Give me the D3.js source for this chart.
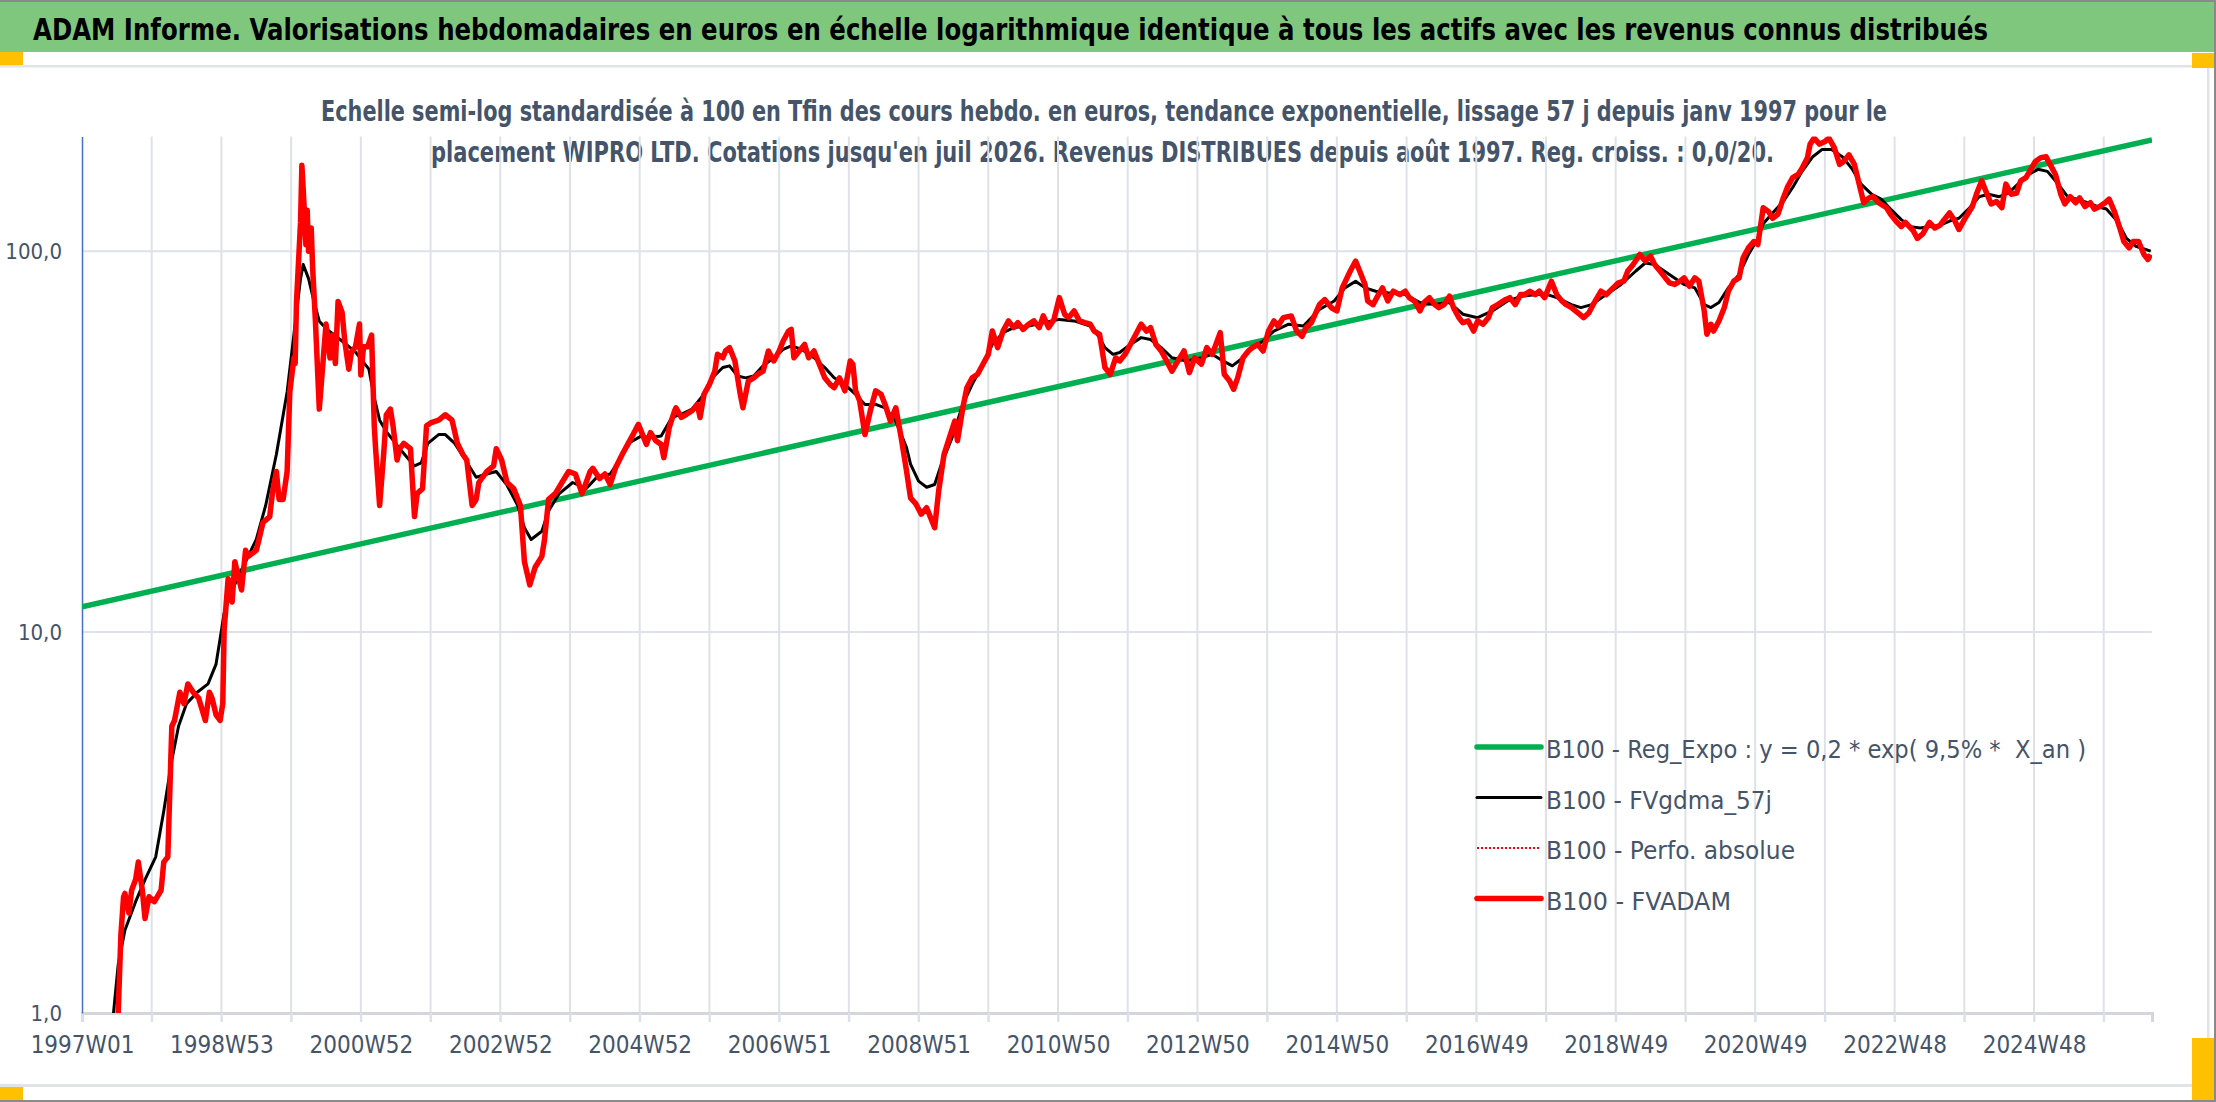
<!DOCTYPE html>
<html lang="fr">
<head>
<meta charset="UTF-8">
<title>ADAM Informe - WIPRO LTD</title>
<style>
  body { margin: 0; background: #fff; }
  svg { display: block; font-family: "Liberation Sans Narrow", "DejaVu Sans Condensed", "Roboto", sans-serif; }
  .pre { white-space: pre; }
</style>
</head>
<body>
<svg width="2216" height="1102"></svg>
<script src="https://d3js.org/d3.v7.min.js"></script>
<script>
// x axis: weekly categories from 1997W01, one label every 104 weeks
const nWeeks = 1544;
const tickLabels = ["1997W01", "1998W53", "2000W52", "2002W52", "2004W52", "2006W51", "2008W51",
  "2010W50", "2012W50", "2014W50", "2016W49", "2018W49", "2020W49", "2022W48", "2024W48"];
const yTicks = [1, 10, 100];

// B100 - Reg_Expo : straight line in log scale, ends of the regression
const regExpo = [[0, 11.65], [1544, 196]];

// B100 - FVgdma_57j  [week index, value]
const fvgdma = [[20,0.8],[23,0.96],[27,1.34],[32,1.65],[40,1.96],[47,2.24],[55,2.57],[61,3.39],[67,4.61],[72,5.66],
  [78,6.49],[86,6.95],[94,7.31],[100,8.24],[104,10.1],[106,11.2],[112,12.9],[122,15.3],[130,17.5],[137,21.5],
  [145,29.3],[153,42.7],[158,60.2],[163,84.7],[165,92.3],[169,84.7],[173,73.8],[177,65.5],[183,62.2],[194,58.1],
  [204,54.3],[214,49.0],[218,41.2],[222,36.0],[227,33.6],[237,30.3],[248,27.3],[253,27.8],[258,31.3],[266,33.0],
  [271,33.0],[278,31.3],[286,28.3],[294,25.5],[302,26.0],[309,26.4],[317,24.3],[325,21.5],[330,18.8],[335,17.5],
  [343,18.4],[348,20.8],[356,23.1],[366,24.7],[376,23.8],[384,25.5],[394,26.0],[402,28.7],[409,31.5],[417,32.7],
  [424,32.4],[432,32.7],[440,36.6],[447,37.3],[455,38.5],[462,41.3],[470,46.5],[478,49.5],[483,50.0],[489,47.0],
  [495,46.5],[501,47.0],[508,50.0],[516,52.5],[523,55.2],[529,56.4],[537,55.2],[546,52.5],[554,49.5],[561,46.5],
  [569,44.7],[577,42.1],[584,39.6],[592,39.6],[599,38.8],[607,35.8],[615,30.5],[618,27.6],[624,24.9],[630,24.0],
  [636,24.4],[641,27.6],[649,32.4],[657,39.6],[664,44.7],[672,50.5],[679,56.9],[687,61.1],[695,63.0],[706,63.6],
  [717,64.9],[729,66.2],[740,65.6],[752,63.6],[759,59.3],[763,55.8],[769,53.6],[774,54.2],[782,56.9],[790,59.3],
  [797,58.6],[805,55.8],[813,52.5],[824,51.5],[835,52.5],[843,53.6],[851,51.5],[858,50.0],[866,52.5],[873,55.8],
  [881,58.1],[889,61.7],[900,64.3],[911,63.6],[923,70.3],[934,74.0],[942,80.1],[950,83.4],[957,80.1],[965,78.5],
  [974,77.8],[983,77.5],[987,76.9],[998,73.3],[1009,72.4],[1020,73.3],[1030,68.3],[1041,66.9],[1052,69.7],[1063,73.9],
  [1074,76.2],[1085,76.9],[1093,76.9],[1100,75.5],[1111,72.4],[1118,71.1],[1126,72.4],[1137,76.9],[1148,81.8],[1159,88.7],
  [1166,93.1],[1173,92.3],[1184,86.9],[1195,81.8],[1203,80.1],[1210,72.4],[1215,71.1],[1221,73.3],[1228,80.1],[1236,86.9],
  [1243,98.0],[1250,108],[1254,118],[1261,126],[1269,135],[1276,147],[1283,162],[1291,177],[1298,185],[1305,185],
  [1313,177],[1320,165],[1327,150],[1335,141],[1342,137],[1349,129],[1357,121],[1364,116],[1371,115],[1378,116],
  [1386,117],[1393,120],[1400,122],[1408,130],[1415,139],[1422,141],[1430,139],[1437,142],[1444,150],[1452,159],
  [1459,164],[1466,162],[1474,150],[1481,139],[1488,137],[1496,134],[1503,131],[1510,129],[1518,120],[1525,108],
  [1532,103],[1543,100]];

// B100 - FVADAM  [week index, value]
const fvadam = [[25,0.8],[27,1.0],[29,1.6],[31,2.02],[32,2.06],[35,1.83],[37,2.10],[40,2.24],[42,2.49],[45,2.10],
  [47,1.77],[50,2.02],[54,1.96],[59,2.10],[61,2.49],[64,2.57],[67,5.66],[69,5.86],[73,6.95],[76,6.49],
  [79,7.31],[83,6.95],[87,6.71],[92,5.86],[95,6.95],[97,6.71],[100,6.06],[103,5.86],[105,6.49],[106,10.1],
  [109,13.8],[112,12.0],[114,15.3],[117,13.8],[119,12.9],[122,16.4],[124,15.8],[130,16.4],[132,17.5],[135,19.4],
  [140,20.1],[142,23.1],[145,26.4],[147,22.3],[150,22.3],[153,26.4],[155,42.7],[158,52.4],[159,50.7],[160,73.8],
  [163,119],[164,168],[165,146],[167,104],[168,128],[169,100],[171,115],[172,90.8],[174,66.7],[177,38.5],
  [180,52.4],[182,64.4],[185,52.4],[187,60.2],[189,50.7],[191,73.8],[194,69.0],[196,58.1],[199,49.0],[201,54.3],
  [204,56.1],[207,64.4],[208,47.3],[210,56.1],[213,56.1],[216,60.2],[218,34.8],[219,30.3],[222,21.5],[225,29.3],
  [227,37.2],[230,38.5],[232,34.8],[235,28.3],[237,30.3],[240,31.3],[245,30.3],[248,20.1],[250,23.1],[254,23.8],
  [257,34.8],[260,35.4],[266,36.0],[271,37.2],[276,36.0],[280,31.3],[284,29.3],[287,28.3],[291,21.5],[294,22.3],
  [296,24.7],[302,26.4],[307,27.3],[309,30.3],[313,28.3],[317,24.7],[322,23.8],[327,21.5],[330,15.3],[334,13.3],
  [338,14.8],[343,15.8],[345,17.5],[348,22.3],[353,23.1],[358,24.7],[363,26.4],[368,26.0],[373,23.1],[379,26.4],
  [381,26.9],[386,25.3],[390,26.0],[394,24.4],[398,27.0],[403,29.3],[407,31.1],[411,33.0],[415,35.1],[419,32.4],
  [421,31.1],[424,33.4],[428,31.8],[432,31.1],[434,28.7],[438,34.4],[442,38.1],[443,38.8],[447,36.6],[451,37.3],
  [455,38.1],[459,39.6],[461,36.6],[464,42.1],[468,44.7],[472,48.4],[474,53.6],[478,52.5],[480,54.7],[483,55.8],
  [487,51.5],[491,42.1],[493,38.8],[497,45.6],[501,46.5],[504,47.5],[508,48.4],[512,54.7],[516,51.5],[520,54.7],
  [523,58.1],[527,61.7],[529,62.3],[531,52.5],[535,54.7],[539,56.9],[542,52.5],[546,54.7],[550,50.5],[554,46.5],
  [558,44.7],[561,43.8],[565,46.5],[569,43.0],[573,51.5],[575,50.5],[577,43.0],[580,40.5],[584,33.0],[588,38.1],
  [592,43.0],[596,42.1],[599,39.6],[603,35.8],[607,38.8],[611,32.4],[615,26.5],[618,22.5],[622,21.7],[626,20.4],
  [630,21.2],[636,18.8],[639,23.5],[643,29.3],[647,32.4],[651,35.8],[653,31.8],[657,38.8],[660,43.8],[664,46.5],
  [668,47.5],[672,50.5],[676,53.6],[679,61.7],[683,55.8],[687,61.7],[691,65.6],[695,63.0],[698,64.9],[702,62.3],
  [706,64.3],[710,65.6],[714,63.0],[717,67.6],[721,63.0],[725,66.2],[729,75.5],[733,68.2],[736,66.9],[740,69.7],
  [744,65.6],[748,64.9],[752,64.3],[755,61.7],[759,60.5],[763,49.5],[767,47.5],[771,52.5],[774,51.5],[778,53.6],
  [782,56.9],[790,64.3],[794,61.7],[797,63.0],[801,56.9],[805,54.7],[809,51.5],[813,48.4],[816,50.5],[822,54.7],
  [826,48.0],[830,52.5],[835,50.5],[839,55.8],[843,53.6],[849,61.1],[852,47.5],[856,45.6],[859,43.4],[862,46.5],
  [866,52.5],[870,54.7],[873,55.8],[877,56.9],[881,54.7],[885,61.7],[889,65.6],[892,63.6],[896,66.9],[902,67.6],
  [906,61.7],[910,59.8],[913,63.0],[917,64.9],[923,72.4],[927,74.6],[932,71.0],[936,69.7],[940,80.1],[946,88.7],
  [950,94.2],[953,88.7],[957,81.8],[959,74.0],[963,72.4],[967,76.9],[970,80.1],[974,74.0],[978,78.5],[983,76.9],
  [987,78.5],[990,75.5],[994,73.9],[998,69.7],[1001,73.3],[1005,75.5],[1009,72.4],[1012,71.1],[1016,72.4],[1020,76.2],
  [1023,71.1],[1027,66.9],[1030,64.9],[1034,65.6],[1038,61.7],[1041,65.6],[1045,64.3],[1049,66.9],[1052,71.1],[1056,72.4],
  [1062,74.7],[1065,75.5],[1069,72.4],[1073,76.9],[1076,76.9],[1080,78.5],[1084,76.9],[1087,78.5],[1091,75.5],[1096,83.4],
  [1100,76.9],[1104,73.9],[1107,72.4],[1111,71.1],[1117,68.3],[1120,66.9],[1124,68.9],[1128,73.3],[1133,78.5],[1137,76.9],
  [1142,80.1],[1146,82.6],[1150,83.4],[1153,88.7],[1157,92.3],[1162,98.0],[1166,94.2],[1170,97.0],[1173,92.3],[1177,88.7],
  [1181,85.1],[1184,82.6],[1188,81.8],[1192,83.4],[1195,85.1],[1199,80.9],[1203,85.1],[1206,83.4],[1210,69.7],[1212,60.5],
  [1215,64.3],[1217,61.7],[1221,65.6],[1225,71.1],[1228,78.5],[1232,83.4],[1236,85.1],[1239,96.1],[1243,102],[1247,106],
  [1250,104],[1254,130],[1258,127],[1261,122],[1265,125],[1269,138],[1272,147],[1276,156],[1280,159],[1283,165],
  [1287,176],[1289,191],[1292,198],[1296,191],[1300,194],[1303,198],[1307,187],[1311,169],[1314,172],[1318,179],
  [1322,169],[1325,153],[1329,134],[1333,138],[1336,139],[1340,134],[1346,130],[1349,125],[1353,120],[1357,116],
  [1360,119],[1366,113],[1369,108],[1373,111],[1378,119],[1382,115],[1386,117],[1389,121],[1393,126],[1397,120],
  [1400,114],[1404,121],[1410,131],[1413,141],[1417,153],[1421,141],[1424,133],[1428,135],[1432,130],[1435,150],
  [1439,141],[1443,142],[1446,153],[1450,156],[1454,165],[1457,172],[1461,176],[1465,177],[1468,169],[1472,159],
  [1476,141],[1479,133],[1483,139],[1487,134],[1490,138],[1494,131],[1498,134],[1501,129],[1505,131],[1509,134],
  [1512,137],[1516,127],[1520,115],[1523,106],[1527,102],[1530,106],[1534,106],[1538,98.0],[1541,95.1],[1543,98.0]];

const legendItems = [
  {label: "B100 - Reg_Expo : y = 0,2 * exp( 9,5% *  X_an )", color: "#00B050", width: 5.5, dash: null, len: 540},
  {label: "B100 - FVgdma_57j", color: "#000000", width: 3, dash: null, len: 226},
  {label: "B100 - Perfo. absolue", color: "#FF0000", width: 2, dash: "2,2", len: 249},
  {label: "B100 - FVADAM", color: "#FF0000", width: 5.5, dash: null, len: 185}
];

const W = 2216, H = 1102;
const plot = {left: 82, right: 2152, top: 136.5, bottom: 1013};
const textColor = "#44546A";
const gridColor = "#DEE2E8";

const svg = d3.select("svg");

// ---- frame around the chart (header band, borders, handles)
svg.append("rect").attr("width", W).attr("height", H).attr("fill", "#fff");
svg.append("rect").attr("x", 0).attr("y", 0).attr("width", W).attr("height", 52).attr("fill", "#80C77E");
svg.append("rect").attr("x", 0).attr("y", 0).attr("width", W).attr("height", 2).attr("fill", "#8a8a8a");
svg.append("rect").attr("x", 0).attr("y", 1100).attr("width", W).attr("height", 2).attr("fill", "#8a8a8a");
svg.append("rect").attr("x", 2214).attr("y", 0).attr("width", 2).attr("height", H).attr("fill", "#8a8a8a");
svg.append("rect").attr("x", 0).attr("y", 65).attr("width", 2209).attr("height", 2.5).attr("fill", "#E1E3E6");
svg.append("rect").attr("x", 0).attr("y", 1084).attr("width", 2209).attr("height", 3).attr("fill", "#E1E3E6");
svg.append("rect").attr("x", 2207).attr("y", 65).attr("width", 2.5).attr("height", 1022).attr("fill", "#E1E3E6");
const orange = "#FFC000";
svg.append("rect").attr("x", 0).attr("y", 52).attr("width", 23).attr("height", 13).attr("fill", orange);
svg.append("rect").attr("x", 2192).attr("y", 53).attr("width", 22).attr("height", 15).attr("fill", orange);
svg.append("rect").attr("x", 0).attr("y", 1087).attr("width", 23).attr("height", 13).attr("fill", orange);
svg.append("rect").attr("x", 2192).attr("y", 1038).attr("width", 22).attr("height", 62).attr("fill", orange);

// ---- titles
svg.append("text")
  .attr("x", 33).attr("y", 40)
  .attr("textLength", 1955).attr("lengthAdjust", "spacingAndGlyphs")
  .attr("font-size", 30).attr("font-weight", "bold").attr("fill", "#000")
  .text("ADAM Informe. Valorisations hebdomadaires en euros en échelle logarithmique identique à tous les actifs avec les revenus connus distribués");

const subtitle = [
  {text: "Echelle semi-log standardisée à 100 en Tfin des cours hebdo. en euros, tendance exponentielle, lissage 57 j depuis janv 1997 pour le", x: 321, len: 1566, y: 121},
  {text: "placement WIPRO LTD. Cotations jusqu'en juil 2026. Revenus DISTRIBUES depuis août 1997. Reg. croiss. : 0,0/20.", x: 431, len: 1343, y: 162}
];
svg.selectAll(".subtitle").data(subtitle).join("text")
  .attr("class", "subtitle")
  .attr("x", d => d.x).attr("y", d => d.y)
  .attr("textLength", d => d.len).attr("lengthAdjust", "spacingAndGlyphs")
  .attr("font-size", 28).attr("font-weight", "bold").attr("fill", textColor)
  .text(d => d.text);

// ---- scales
const x = d3.scaleLinear().domain([0, nWeeks]).range([plot.left, plot.right]);
const y = d3.scaleLog().domain([1, 200]).range([plot.bottom, plot.top]);

// ---- gridlines
const gridWeeks = d3.range(0, nWeeks, 52);
svg.append("g").selectAll("line").data(gridWeeks.slice(1)).join("line")
  .attr("x1", d => x(d)).attr("x2", d => x(d))
  .attr("y1", plot.top).attr("y2", plot.bottom + 9)
  .attr("stroke", gridColor).attr("stroke-width", 2);
svg.append("g").selectAll("line").data(yTicks.slice(1)).join("line")
  .attr("x1", plot.left).attr("x2", plot.right)
  .attr("y1", d => y(d)).attr("y2", d => y(d))
  .attr("stroke", gridColor).attr("stroke-width", 2);

// x axis (category axis at 1,0)
const xAxis = d3.axisBottom(x)
  .tickValues(gridWeeks)
  .tickSize(9)
  .tickPadding(14)
  .tickFormat((d, i) => i % 2 === 0 ? tickLabels[i / 2] : "");
const gx = svg.append("g").attr("transform", `translate(0,${plot.bottom})`).call(xAxis);
gx.select(".domain").attr("stroke", "#D3D7DD").attr("stroke-width", 3);
gx.selectAll(".tick line").attr("stroke", gridColor).attr("stroke-width", 2);
gx.selectAll(".tick text")
  .attr("fill", textColor).attr("font-size", 24)
  .attr("font-family", "'Liberation Sans Narrow', 'DejaVu Sans Condensed', sans-serif");

// y axis
const yAxis = d3.axisLeft(y)
  .tickValues(yTicks)
  .tickSize(0)
  .tickPadding(20)
  .tickFormat(d => d3.format(".1f")(d).replace(".", ","));
const gy = svg.append("g").attr("transform", `translate(${plot.left},0)`).call(yAxis);
gy.select(".domain").attr("stroke", "#4472C4").attr("stroke-width", 1.5);
gy.selectAll(".tick text")
  .attr("fill", textColor).attr("font-size", 22)
  .attr("font-family", "'Liberation Sans Narrow', 'DejaVu Sans Condensed', sans-serif");

// ---- series
svg.append("clipPath").attr("id", "plotClip")
  .append("rect")
  .attr("x", plot.left).attr("y", plot.top)
  .attr("width", plot.right - plot.left).attr("height", plot.bottom - plot.top);

const line = d3.line()
  .x(d => x(d[0]))
  .y(d => y(d[1]));

const series = svg.append("g").attr("clip-path", "url(#plotClip)");
series.append("path").datum(regExpo)
  .attr("d", line).attr("fill", "none")
  .attr("stroke", "#00B050").attr("stroke-width", 5.5);
series.append("path").datum(fvgdma)
  .attr("d", line).attr("fill", "none")
  .attr("stroke", "#000").attr("stroke-width", 3).attr("stroke-linejoin", "round");
series.append("path").datum(fvadam)
  .attr("d", line).attr("fill", "none")
  .attr("stroke", "#FF0000").attr("stroke-width", 5.5).attr("stroke-linejoin", "round");

// ---- legend
const legend = svg.append("g").attr("transform", "translate(1477,747)");
const rows = legend.selectAll("g").data(legendItems).join("g")
  .attr("transform", (d, i) => `translate(0,${i * 50.5})`);
rows.append("line")
  .attr("x1", 0).attr("x2", 64)
  .attr("stroke", d => d.color).attr("stroke-width", d => d.width)
  .attr("stroke-dasharray", d => d.dash)
  .attr("stroke-linecap", d => d.dash ? "butt" : "round");
rows.append("text")
  .attr("class", "pre")
  .attr("x", 69).attr("y", 11)
  .attr("textLength", d => d.len).attr("lengthAdjust", "spacingAndGlyphs")
  .attr("font-size", 25).attr("fill", textColor)
  .text(d => d.label);
</script>
</body>
</html>
